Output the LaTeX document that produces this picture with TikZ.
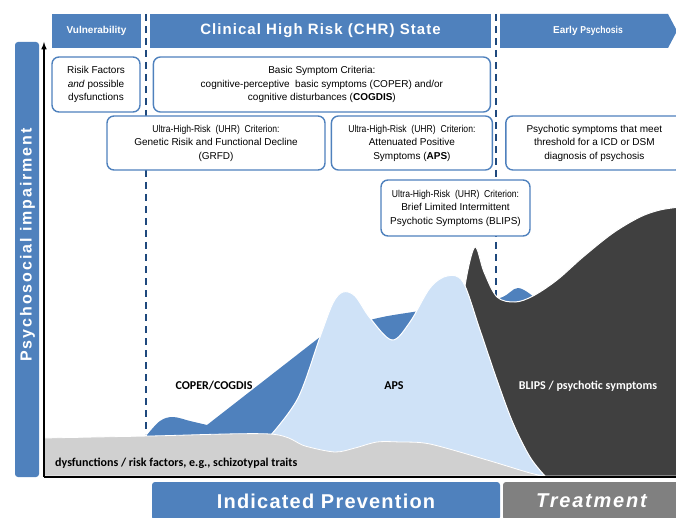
\documentclass[tikz,border=0pt]{standalone}
\usepackage{fontspec}
\setmainfont{Liberation Sans}
\newfontfamily\narrowfont[FakeStretch=0.86]{Liberation Sans}
\newfontfamily\calfont{Carlito}
\usetikzlibrary{positioning}
\definecolor{chrblue}{RGB}{79,129,189}
\definecolor{dashblue}{RGB}{31,73,125}
\definecolor{apsblue}{RGB}{207,226,247}
\definecolor{psygray}{RGB}{64,64,64}
\definecolor{basegray}{RGB}{208,208,208}
\definecolor{treatgray}{RGB}{128,128,128}

\begin{document}
\begin{tikzpicture}[x=1pt, y=-1pt, >=latex]
	\tikzstyle{band} = [fill=chrblue, text=white, inner sep=0pt, minimum height=34pt, font=\fontsize{10}{12}\selectfont\bfseries];
	\tikzstyle{crit} = [draw=chrblue, line width=1.4pt, rounded corners=7pt, fill=white, align=center, inner sep=0pt, font=\fontsize{10}{13.5}\selectfont];
	\tikzstyle{phase} = [dashblue, line width=1.6pt, dash pattern=on 7pt off 5pt];
	\tikzstyle{lbl} = [font=\calfont\fontsize{12}{14}\selectfont\bfseries];
	\tikzstyle{bigband} = [inner sep=0pt, minimum height=38pt, text=white, rounded corners=3pt, font=\fontsize{20}{22}\selectfont\bfseries\addfontfeature{LetterSpace=6}];

	\useasboundingbox (0,0) rectangle (676,518);

	\coordinate (d1a) at (146,14);
	\coordinate (d1b) at (146,434);
	\coordinate (d2a) at (496,14);
	\coordinate (d2b) at (496,300);
	\draw [phase] (d1a) -- (d1b);
	\draw [phase] (d2a) -- (d2b);

	\fill [chrblue, rounded corners=3pt] (15,42) rectangle (39,477);
	\node [rotate=90, text=white, font=\fontsize{16}{18}\selectfont\bfseries\addfontfeature{LetterSpace=12}] (yl) at (27.5,245) {Psychosocial impairment};

	\node [band, minimum width=89pt] (vul) at (96.5,31) {Vulnerability};
	\node [band, minimum width=341pt, font=\fontsize{15}{17}\selectfont\bfseries\addfontfeature{LetterSpace=7}] (chr) at (320.5,31) {Clinical High Risk (CHR) State};
	\fill [chrblue] (500,14) -- (668,14) -- (677,31) -- (668,48) -- (500,48) -- cycle;
	\node [text=white, font=\fontsize{10}{12}\selectfont\bfseries] (early) at (588,31) {Early {\narrowfont Psychosis}};

	\node [crit, minimum width=88pt, minimum height=55pt] (risk) at (96,84.5) {Risik Factors\\ \textit{and} possible\\ dysfunctions};
	\node [crit, minimum width=337pt, minimum height=55pt, right=12pt of risk] (basic) {Basic Symptom Criteria:\\ cognitive-perceptive\ \ basic symptoms (COPER) and/or\\ cognitive disturbances (\textbf{COGDIS})};
	\node [crit, minimum width=218pt, minimum height=54pt] (grfd) at (216,143) {{\narrowfont Ultra-High-Risk\ \ (UHR)\ \ Criterion:}\\ Genetic Risik and Functional Decline\\ (GRFD)};
	\node [crit, minimum width=161pt, minimum height=54pt, right=5pt of grfd] (aps) {{\narrowfont Ultra-High-Risk\ \ (UHR)\ \ Criterion:}\\ Attenuated Positive\\ Symptoms (\textbf{APS})};
	\node [crit, minimum width=177pt, minimum height=54pt, right=12pt of aps] (psy) {Psychotic symptoms that meet\\ threshold for a ICD or DSM\\ diagnosis of psychosis};
	\node [crit, minimum width=149pt, minimum height=56pt] (blips) at (455.5,208) {{\narrowfont Ultra-High-Risk\ \ (UHR)\ \ Criterion:}\\ Brief Limited Intermittent\\ Psychotic Symptoms (BLIPS)};

	\fill [chrblue] (147,476) -- plot [smooth, tension=0.6] coordinates {(147,435) (160,421) (173,417) (190,421) (207,425)} -- (320,337) -- plot [smooth, tension=0.6] coordinates {(320,337) (370,320) (413,312) (460,306) (500,298) (518,288) (535,298)} -- (535,476) -- cycle;
	\filldraw [fill=psygray, draw=white, line width=1pt] (470,476) -- plot [smooth, tension=0.55] coordinates {(462,400) (462,320) (466,280) (475,247) (484,272) (497,297) (515,302) (533,296) (557,280) (583,257) (613,233) (640,217) (660,210) (680,207)} -- (680,476) -- cycle;
	\filldraw [fill=apsblue, draw=white, line width=1pt] (270,476) -- plot [smooth, tension=0.55] coordinates {(270,436) (298,398) (320,337) (333,303) (343,292) (355,296) (370,318) (392,340) (410,322) (430,288) (447,276) (463,282) (480,330) (497,380) (513,423) (530,457) (545,476)} -- cycle;
	\filldraw [fill=basegray, draw=white, line width=.8pt] (44,476) -- plot [smooth, tension=0.5] coordinates {(44,438) (150,436) (270,434) (305,446) (335,452) (355,448) (377,442) (400,442) (430,444) (487,460) (530,473) (545,476)} -- cycle;

	\node [lbl] (coper) at (214,386) {COPER/COGDIS};
	\node [lbl] (apsl) at (394,386) {APS};
	\node [lbl, text=white] (blipsl) at (588,386) {BLIPS / psychotic symptoms};
	\node [lbl, anchor=west, inner sep=0pt] (dys) at (55,463) {dysfunctions / risk factors, e.g., schizotypal traits};

	\coordinate (o) at (44,477);
	\coordinate (ytop) at (44,42);
	\coordinate (xend) at (676,477);
	\draw [->, line width=1.5pt] (o) -- (ytop);
	\draw [line width=1.5pt] (o) -- (xend);

	\node [bigband, fill=chrblue, minimum width=348pt] (prev) at (326,501) {Indicated Prevention};
	\node [bigband, fill=treatgray, minimum width=177pt, font=\fontsize{20}{22}\selectfont\bfseries\itshape\addfontfeature{LetterSpace=9}] (treat) at (591.5,501) {Treatment};
\end{tikzpicture}
\end{document}
